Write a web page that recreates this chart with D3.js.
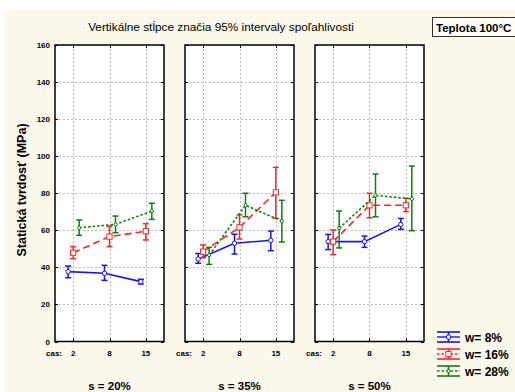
<!DOCTYPE html>
<html>
<head>
<meta charset="utf-8">
<script src="https://cdn.jsdelivr.net/npm/d3@7"></script>
<style>
  body { margin: 0; background: #fff; }
  svg { display: block; font-family: "Liberation Sans", Arial, sans-serif; }
</style>
</head>
<body>
<svg width="515" height="392"></svg>
<script>
// casy (x kategorie) a panely
var times = ["2", "8", "15"]
var panels = ["s = 20%", "s = 35%", "s = 50%"]
var seriesNames = ["w= 8%", "w= 16%", "w= 28%"]
var yTicks = [0, 20, 40, 60, 80, 100, 120, 140, 160]

// priemery a 95% intervaly, [panel][cas]
var meanW8 = [[37.7, 36.8, 32.3], [44.5, 53.0, 54.6], [53.9, 53.9, 63.2]]
var lowW8 = [[34.4, 33.0, 31.0], [42.2, 47.2, 49.0], [49.6, 50.8, 60.5]]
var highW8 = [[40.7, 41.1, 33.6], [47.5, 57.9, 59.6], [57.8, 56.9, 66.4]]

var meanW16 = [[47.9, 56.6, 59.5], [48.5, 61.6, 80.5], [53.9, 73.5, 73.5]]
var lowW16 = [[44.7, 51.2, 54.8], [45.2, 55.3, 66.5], [46.9, 66.8, 70.1]]
var highW16 = [[51.2, 62.2, 63.6], [52.1, 68.3, 94.0], [60.2, 80.0, 77.3]]

var meanW28 = [[61.4, 63.2, 70.4], [46.6, 73.5, 65.0], [61.1, 78.9, 76.9]]
var lowW28 = [[57.3, 58.7, 65.9], [41.6, 67.3, 53.7], [50.5, 67.3, 59.8]]
var highW28 = [[65.6, 67.7, 74.6], [50.8, 80.0, 76.2], [70.4, 90.4, 94.7]]

var series = [
  { name: seriesNames[0], mean: meanW8, low: lowW8, high: highW8, color: "#1515f5", dash: null, marker: "circle", r: 2.2, dx: -5 },
  { name: seriesNames[1], mean: meanW16, low: lowW16, high: highW16, color: "#f52828", dash: "7,4", marker: "square", r: 2.6, dx: 0 },
  { name: seriesNames[2], mean: meanW28, low: lowW28, high: highW28, color: "#0f7f0f", dash: "2.5,2", marker: "circle", r: 1.6, dx: 6 }
]

var svg = d3.select("svg")
var cream = "#fcf8ec"

svg.append("rect").attr("x", 4).attr("y", 10).attr("width", 511).attr("height", 382).attr("fill", cream)

var y = d3.scaleLinear().domain([0, 160]).range([341.5, 45])

var panelX = d3.scaleBand().domain(panels).range([55, 424]).paddingInner(0.1615)

// titulok
svg.append("text")
  .attr("x", 221).attr("y", 31)
  .attr("text-anchor", "middle")
  .style("font-size", "11.8px")
  .text("Vertikálne stĺpce značia 95% intervaly spoľahlivosti")

// rámček teplota
svg.append("rect").attr("x", 432.5).attr("y", 17.5).attr("width", 90).attr("height", 19)
  .attr("fill", "#fffdf6").attr("stroke", "#333").attr("stroke-width", 1)
svg.append("text").attr("x", 436).attr("y", 31.5)
  .style("font-size", "11.5px").style("font-weight", "bold")
  .text("Teplota 100°C")

// os y
svg.append("text")
  .attr("transform", "translate(26,190) rotate(-90)")
  .attr("text-anchor", "middle")
  .style("font-size", "12.5px").style("font-weight", "bold")
  .text("Statická tvrdosť (MPa)")

svg.append("g").selectAll("text").data(yTicks).join("text")
  .attr("x", 50).attr("y", function(d) { return y(d) + 3 })
  .attr("text-anchor", "end")
  .style("font-size", "8px").style("font-weight", "bold")
  .text(function(d) { return d })

panels.forEach(function(p, pi) {
  var x0 = panelX(p)
  var w = panelX.bandwidth()
  var x = d3.scalePoint().domain(times).range([x0, x0 + w]).padding(0.5)
  var g = svg.append("g")

  g.append("rect").attr("x", x0).attr("y", 45).attr("width", w).attr("height", y(0) - 45).attr("fill", "#fff")

  // mriežka
  g.selectAll(".gy").data(yTicks.slice(1, -1)).join("line")
    .attr("x1", x0).attr("x2", x0 + w)
    .attr("y1", function(d) { return Math.round(y(d)) + 0.5 }).attr("y2", function(d) { return Math.round(y(d)) + 0.5 })
    .attr("stroke", "#bdbdbd").attr("stroke-dasharray", "2,2")
  g.selectAll(".gx").data(times).join("line")
    .attr("x1", function(d) { return Math.round(x(d)) + 0.5 }).attr("x2", function(d) { return Math.round(x(d)) + 0.5 })
    .attr("y1", 45).attr("y2", y(0))
    .attr("stroke", "#bdbdbd").attr("stroke-dasharray", "2,2")

  // tiky dovnútra
  yTicks.forEach(function(t) {
    var yy = Math.round(y(t)) + 0.5
    g.append("line").attr("x1", x0).attr("x2", x0 + 3).attr("y1", yy).attr("y2", yy).attr("stroke", "#000")
    g.append("line").attr("x1", x0 + w - 3).attr("x2", x0 + w).attr("y1", yy).attr("y2", yy).attr("stroke", "#000")
  })
  times.forEach(function(t) {
    var xx = Math.round(x(t)) + 0.5
    g.append("line").attr("x1", xx).attr("x2", xx).attr("y1", 45).attr("y2", 48).attr("stroke", "#000")
    g.append("line").attr("x1", xx).attr("x2", xx).attr("y1", y(0) - 3).attr("y2", y(0)).attr("stroke", "#000")
  })

  g.append("rect").attr("x", x0).attr("y", 45).attr("width", w).attr("height", y(0) - 45)
    .attr("fill", "none").attr("stroke", "#000").attr("stroke-width", 1.5)

  // popisky x
  g.append("text").attr("x", x0 - 9).attr("y", 355.5)
    .style("font-size", "8px").style("font-weight", "bold").text("cas:")
  g.selectAll(".tx").data(times).join("text")
    .attr("x", function(d) { return x(d) }).attr("y", 355.5)
    .attr("text-anchor", "middle")
    .style("font-size", "8px").style("font-weight", "bold")
    .text(function(d) { return d })

  g.append("text").attr("x", x0 + w / 2).attr("y", 389.5)
    .attr("text-anchor", "middle")
    .style("font-size", "11.5px").style("font-weight", "bold")
    .text(p)

  series.forEach(function(s) {
    var pts = times.map(function(t, i) {
      return { x: x(t) + s.dx, m: s.mean[pi][i], lo: s.low[pi][i], hi: s.high[pi][i] }
    })
    var sg = g.append("g")
    sg.append("path")
      .attr("d", d3.line().x(function(d) { return d.x }).y(function(d) { return y(d.m) })(pts))
      .attr("fill", "none").attr("stroke", s.color).attr("stroke-width", 1.6)
      .attr("stroke-dasharray", s.dash)
    pts.forEach(function(d) {
      sg.append("line").attr("x1", d.x).attr("x2", d.x).attr("y1", y(d.lo)).attr("y2", y(d.hi))
        .attr("stroke", s.color).attr("stroke-width", 1.5)
      ;[d.lo, d.hi].forEach(function(v) {
        sg.append("line").attr("x1", d.x - 3).attr("x2", d.x + 3).attr("y1", y(v)).attr("y2", y(v))
          .attr("stroke", s.color).attr("stroke-width", 1.5)
      })
      drawMarker(sg, s, d.x, y(d.m))
    })
  })
})

function drawMarker(sel, s, cx, cy) {
  if (s.marker == "square") {
    sel.append("rect").attr("x", cx - s.r).attr("y", cy - s.r).attr("width", 2 * s.r).attr("height", 2 * s.r)
      .attr("fill", "#fff").attr("stroke", s.color).attr("stroke-width", 1)
  } else {
    sel.append("circle").attr("cx", cx).attr("cy", cy).attr("r", s.r)
      .attr("fill", "#fff").attr("stroke", s.color).attr("stroke-width", 1)
  }
}

// legenda
var legend = svg.append("g").selectAll("g").data(series).join("g")
  .attr("transform", function(d, i) { return "translate(437," + (337 + i * 17) + ")" })
legend.each(function(s) {
  var lg = d3.select(this)
  ;[-5, 5].forEach(function(v) {
    lg.append("line").attr("x1", 0).attr("x2", 23).attr("y1", v).attr("y2", v).attr("stroke", s.color).attr("stroke-width", 1.6)
  })
  lg.append("line").attr("x1", 11.5).attr("x2", 11.5).attr("y1", -5).attr("y2", 5).attr("stroke", s.color).attr("stroke-width", 1.6)
  lg.append("line").attr("x1", 0).attr("x2", 23).attr("y1", 0).attr("y2", 0).attr("stroke", s.color).attr("stroke-width", 1.4)
    .attr("stroke-dasharray", s.dash ? "2.5,2" : null)
  drawMarker(lg, s, 11.5, 0)
  lg.append("text").attr("x", 28).attr("y", 4.5)
    .style("font-size", "12px").style("font-weight", "bold")
    .text(s.name)
})
</script>
</body>
</html>
